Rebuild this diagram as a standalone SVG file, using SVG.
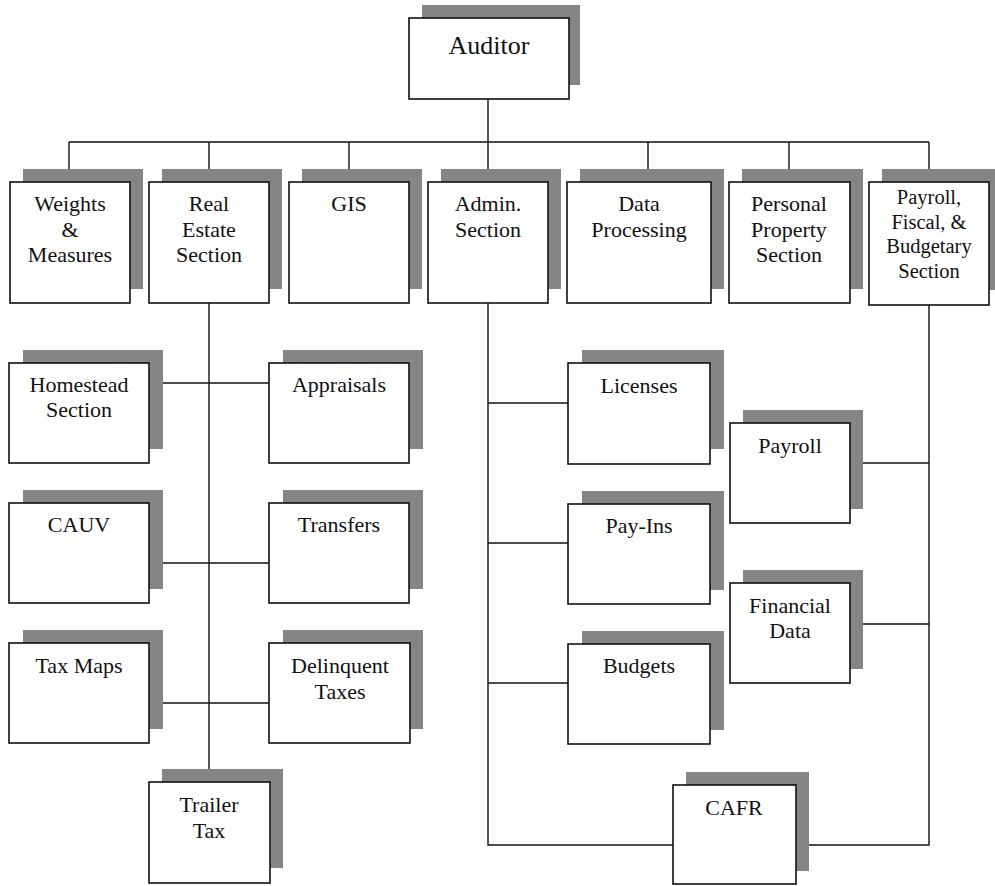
<svg xmlns="http://www.w3.org/2000/svg" width="995" height="886" viewBox="0 0 995 886">
<style>
.sh{fill:#858585;stroke:none}
.bx{fill:#fff;stroke:#111;stroke-width:1.6}
.t{font-family:"Liberation Serif","Times New Roman",serif;font-size:22px;fill:#111;text-anchor:middle}
.ts{font-size:20.5px}
.ta{font-size:26px}
.ln{stroke:#111;stroke-width:1.4;fill:none}
</style>
<rect width="995" height="886" fill="#fff"/>
<g id="connectors">
<path class="ln" d="M488 99V142M69 142H929M69 142V182M209 142V182M349 142V182M488 142V182M648 142V182M789 142V182M929 142V182"/>
<path class="ln" d="M209 303V782M149 383H269M149 563H269M149 703H269"/>
<path class="ln" d="M488 303V845H673M488 403H568M488 543H568M488 683H568"/>
<path class="ln" d="M929 305V845H796M850 463H929M850 624H929"/>
</g>
<g id="auditor"><rect class="sh" x="422" y="5" width="158" height="80"/><rect class="bx" x="409" y="18" width="160" height="81"/><text class="t ta" x="489" y="54">Auditor</text></g>
<g id="weights"><rect class="sh" x="23" y="169" width="120" height="120"/><rect class="bx" x="10" y="182" width="120" height="121"/><text class="t" x="70" y="211">Weights</text><text class="t" x="70" y="237">&amp;</text><text class="t" x="70" y="262">Measures</text></g>
<g id="realestate"><rect class="sh" x="162" y="169" width="120" height="120"/><rect class="bx" x="149" y="182" width="120" height="121"/><text class="t" x="209" y="211">Real</text><text class="t" x="209" y="237">Estate</text><text class="t" x="209" y="262">Section</text></g>
<g id="gis"><rect class="sh" x="302" y="169" width="120" height="120"/><rect class="bx" x="289" y="182" width="120" height="121"/><text class="t" x="349" y="211">GIS</text></g>
<g id="admin"><rect class="sh" x="441" y="169" width="120" height="120"/><rect class="bx" x="428" y="182" width="120" height="121"/><text class="t" x="488" y="211">Admin.</text><text class="t" x="488" y="237">Section</text></g>
<g id="dataproc"><rect class="sh" x="580" y="169" width="144" height="120"/><rect class="bx" x="567" y="182" width="144" height="121"/><text class="t" x="639" y="211">Data</text><text class="t" x="639" y="237">Processing</text></g>
<g id="personal"><rect class="sh" x="742" y="169" width="121" height="120"/><rect class="bx" x="729" y="182" width="121" height="121"/><text class="t" x="789" y="211">Personal</text><text class="t" x="789" y="237">Property</text><text class="t" x="789" y="262">Section</text></g>
<g id="payrollfiscal"><rect class="sh" x="882" y="169" width="113" height="121"/><rect class="bx" x="869" y="182" width="120" height="123"/><text class="t ts" x="929" y="204">Payroll,</text><text class="t ts" x="929" y="229">Fiscal, &amp;</text><text class="t ts" x="929" y="253">Budgetary</text><text class="t ts" x="929" y="278">Section</text></g>
<g id="homestead"><rect class="sh" x="23" y="350" width="140" height="99"/><rect class="bx" x="9" y="363" width="140" height="100"/><text class="t" x="79" y="392">Homestead</text><text class="t" x="79" y="417">Section</text></g>
<g id="appraisals"><rect class="sh" x="283" y="350" width="140" height="99"/><rect class="bx" x="269" y="363" width="140" height="100"/><text class="t" x="339" y="392">Appraisals</text></g>
<g id="cauv"><rect class="sh" x="23" y="490" width="140" height="99"/><rect class="bx" x="9" y="503" width="140" height="100"/><text class="t" x="79" y="532">CAUV</text></g>
<g id="transfers"><rect class="sh" x="283" y="490" width="140" height="99"/><rect class="bx" x="269" y="503" width="140" height="100"/><text class="t" x="339" y="532">Transfers</text></g>
<g id="taxmaps"><rect class="sh" x="23" y="630" width="140" height="99"/><rect class="bx" x="9" y="643" width="140" height="100"/><text class="t" x="79" y="673">Tax Maps</text></g>
<g id="delinquent"><rect class="sh" x="283" y="630" width="140" height="99"/><rect class="bx" x="269" y="643" width="141" height="100"/><text class="t" x="340" y="673">Delinquent</text><text class="t" x="340" y="699">Taxes</text></g>
<g id="trailer"><rect class="sh" x="162" y="769" width="121" height="99"/><rect class="bx" x="149" y="782" width="121" height="101"/><text class="t" x="209" y="812">Trailer</text><text class="t" x="209" y="838">Tax</text></g>
<g id="licenses"><rect class="sh" x="582" y="350" width="142" height="99"/><rect class="bx" x="568" y="363" width="142" height="101"/><text class="t" x="639" y="393">Licenses</text></g>
<g id="payins"><rect class="sh" x="582" y="491" width="142" height="99"/><rect class="bx" x="568" y="504" width="142" height="100"/><text class="t" x="639" y="533">Pay-Ins</text></g>
<g id="budgets"><rect class="sh" x="582" y="631" width="142" height="99"/><rect class="bx" x="568" y="644" width="142" height="100"/><text class="t" x="639" y="673">Budgets</text></g>
<g id="payroll"><rect class="sh" x="743" y="410" width="120" height="99"/><rect class="bx" x="730" y="423" width="120" height="100"/><text class="t" x="790" y="453">Payroll</text></g>
<g id="financial"><rect class="sh" x="743" y="570" width="120" height="99"/><rect class="bx" x="730" y="583" width="120" height="100"/><text class="t" x="790" y="613">Financial</text><text class="t" x="790" y="638">Data</text></g>
<g id="cafr"><rect class="sh" x="686" y="772" width="123" height="99"/><rect class="bx" x="673" y="785" width="123" height="99"/><text class="t" x="734" y="815">CAFR</text></g>
</svg>
